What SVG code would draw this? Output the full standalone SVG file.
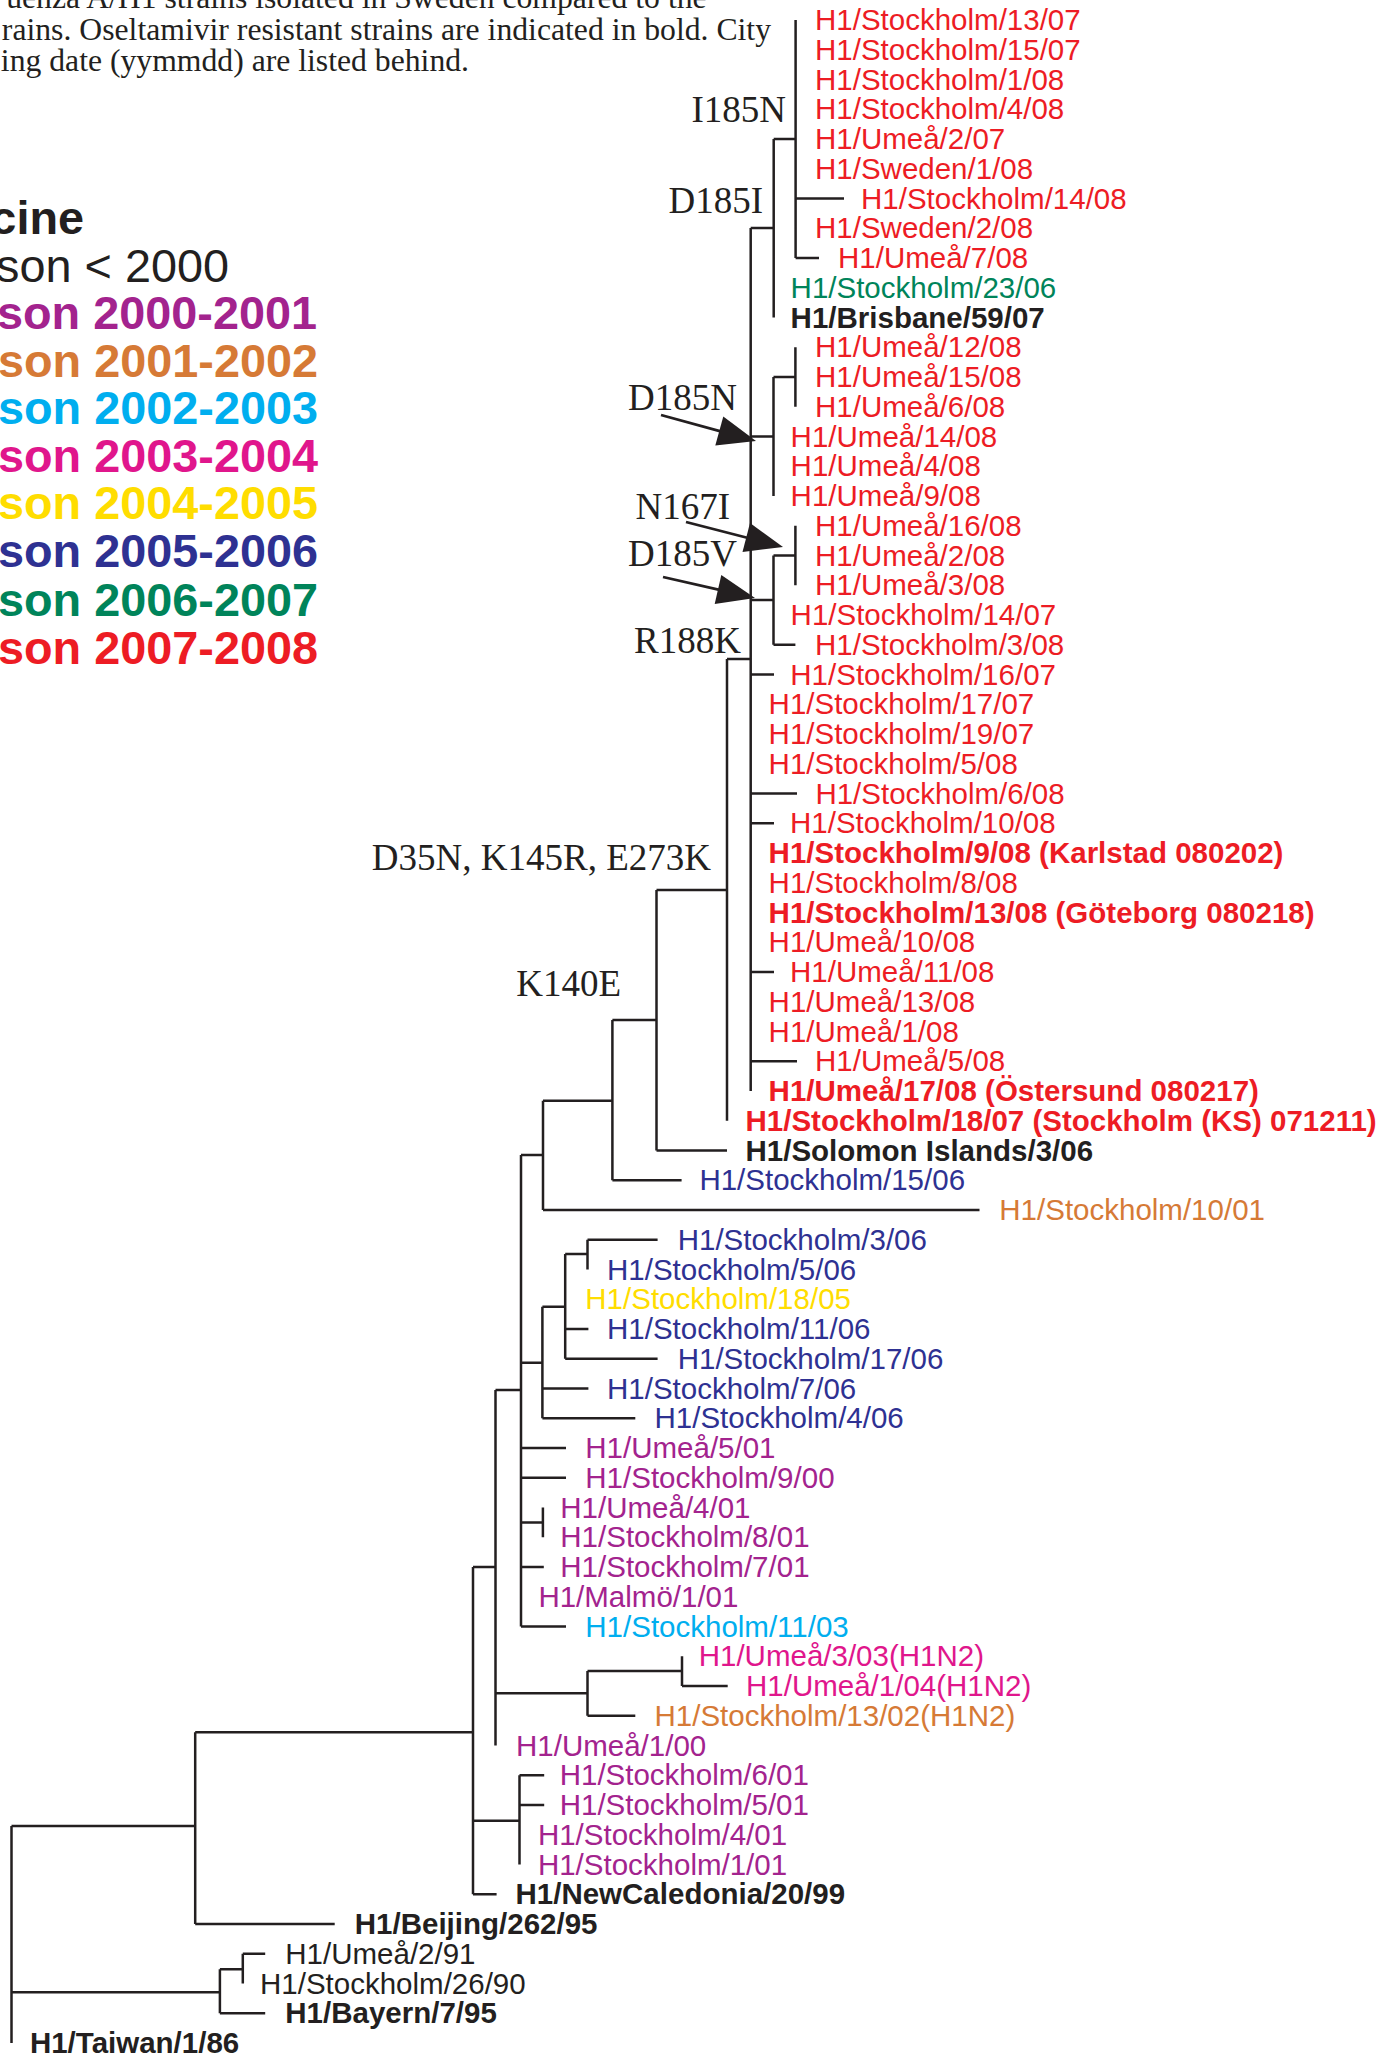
<svg xmlns="http://www.w3.org/2000/svg" width="1384" height="2055" viewBox="0 0 1384 2055">
<style>
.t{font-family:"Liberation Sans",Arial,Helvetica,sans-serif;font-size:29.5px}
.b{font-weight:bold}
.red{fill:#ed1c24}.grn{fill:#00845a}.blk{fill:#231f20}.nav{fill:#2e3192}.org{fill:#d67a36}.yel{fill:#ffdd00}.pur{fill:#a3238e}.cya{fill:#00aeef}.mag{fill:#e0168c}
.m{font-family:"Liberation Serif","Times New Roman",serif;font-size:37px;fill:#231f20;text-anchor:end}
.cap{font-family:"Liberation Serif","Times New Roman",serif;font-size:31.7px;fill:#231f20;text-anchor:end}
.lg{font-family:"Liberation Sans",Arial,sans-serif;font-size:46.8px;font-weight:bold;text-anchor:end}
.br{fill:none;stroke:#231f20;stroke-width:2.5}
.ar{fill:none;stroke:#231f20;stroke-width:2.8}
.ah{fill:#231f20}
</style>
<rect width="1384" height="2055" fill="#ffffff"/>
<g id="caption">
<text class="cap" x="706.6" y="8">uenza A/H1 strains isolated in Sweden compared to the</text>
<text class="cap" x="771" y="40">rains. Oseltamivir resistant strains are indicated in bold. City</text>
<text class="cap" x="469" y="70.7">ing date (yymmdd) are listed behind.</text>
</g>
<g id="legend">
<text class="lg blk" x="84" y="234">cine</text>
<text class="lg blk" x="229" y="281.5" style="font-weight:normal">son &lt; 2000</text>
<text class="lg pur" x="317" y="329">son 2000-2001</text>
<text class="lg org" x="318" y="376.5">son 2001-2002</text>
<text class="lg cya" x="318" y="424">son 2002-2003</text>
<text class="lg mag" x="318" y="471.5">son 2003-2004</text>
<text class="lg yel" x="318" y="519">son 2004-2005</text>
<text class="lg nav" x="318" y="567">son 2005-2006</text>
<text class="lg grn" x="318" y="615.5">son 2006-2007</text>
<text class="lg red" x="318" y="663.5">son 2007-2008</text>
</g>
<g id="connectors">
<path class="br" d="
M795.6,20 V258 M795.6,198.5 H844 M795.6,258 H819
M773.7,139 H795.6 M773.7,139 V317.5 M750.7,228 H773.7
M750.7,228 V1091
M750.7,436.5 H773.5 M773.5,377 V496 M773.5,377 H795.4 M795.4,347.25 V406.75
M750.7,600 H773.5 M773.5,555.5 V644.75 M773.5,555.5 H795.4 M795.4,525.75 V585.25 M773.5,644.75 H795.4
M727,659 H750.7
M750.7,674.5 H774 M750.7,793.5 H797 M750.7,823.25 H774 M750.7,972 H774 M750.7,1061.25 H797
M727,659 V1120.75
M656.5,890 H727 M656.5,890 V1150.5 M656.5,1150.5 H727
M612.4,1020 H656.5 M612.4,1020 V1180.25 M612.4,1180.25 H681.6
M543,1100.7 H612.4 M543,1100.7 V1210 M543,1210 H979.5
M521,1155 H543 M521,1155 V1626.5
M495.5,1390 H521
M521,1362.7 H542.4 M542.4,1306.7 V1418.25 M542.4,1306.7 H565.2 M565.2,1254 V1358.75 M565.2,1254 H587.5 M587.5,1239.75 V1269.5
M587.5,1239.75 H657.6 M565.2,1329 H588.4 M565.2,1358.75 H657.6 M542.4,1388.5 H588.4 M542.4,1418.25 H635.3
M521,1448 H566 M521,1477.75 H566
M521,1522.4 H542.9 M542.9,1507.5 V1537.25
M521,1567 H543.8 M521,1626.5 H566
M495.5,1390 V1745.5
M473,1567 H495.5
M495.5,1693.3 H587.5 M587.5,1671 V1715.75 M587.5,1671 H682 M682,1656.25 V1686 M682,1686 H727.7 M587.5,1715.75 H635.3
M473,1567 V1894.25 M473,1894.25 H496.6
M473,1820.7 H519.5 M519.5,1775.25 V1864.5 M519.5,1775.25 H544.2 M519.5,1805 H544.2
M195.2,1732.3 H473 M195.2,1732.3 V1924 M195.2,1924 H334.7
M11.5,1826 H195.2 M11.5,1826 V2043
M11.5,1992.3 H219.9 M219.9,1969.3 V2013.25 M219.9,1969.3 H242.8 M242.8,1953.75 V1983.5 M242.8,1953.75 H265.2 M219.9,2013.25 H265.2"/>
<g id="arrow-D185N"><path class="ar" d="M661,415 L728,433.4"/><polygon class="ah" points="756,441 723.3,416.5 715.3,445.5"/></g>
<g id="arrow-N167I"><path class="ar" d="M686,522 L752,539"/><polygon class="ah" points="783,547 750,523 742.5,552"/></g>
<g id="arrow-D185V"><path class="ar" d="M663,577 L725,591.2"/><polygon class="ah" points="755,598 721.3,575 714.7,604"/></g>
<g id="mutations">
<text class="m" x="786" y="122">I185N</text>
<text class="m" x="763" y="213.4">D185I</text>
<text class="m" x="737" y="409.8">D185N</text>
<text class="m" x="730" y="519">N167I</text>
<text class="m" x="737" y="566">D185V</text>
<text class="m" x="741" y="652.6">R188K</text>
<text class="m" x="711" y="870">D35N, K145R, E273K</text>
<text class="m" x="621" y="996">K140E</text>
</g>
</g>
<g id="leaves">
<g id="n1"><text class="t red" x="815" y="30">H1/Stockholm/13/07</text></g>
<g id="n2"><text class="t red" x="815" y="59.75">H1/Stockholm/15/07</text></g>
<g id="n3"><text class="t red" x="815" y="89.5">H1/Stockholm/1/08</text></g>
<g id="n4"><text class="t red" x="815" y="119.25">H1/Stockholm/4/08</text></g>
<g id="n5"><text class="t red" x="815" y="149">H1/Umeå/2/07</text></g>
<g id="n6"><text class="t red" x="815" y="178.75">H1/Sweden/1/08</text></g>
<g id="n7"><text class="t red" x="861" y="208.5">H1/Stockholm/14/08</text></g>
<g id="n8"><text class="t red" x="815" y="238.25">H1/Sweden/2/08</text></g>
<g id="n9"><text class="t red" x="838" y="268">H1/Umeå/7/08</text></g>
<g id="n10"><text class="t grn" x="790.6" y="297.75">H1/Stockholm/23/06</text></g>
<g id="n11"><text class="t b blk" x="790.6" y="327.5">H1/Brisbane/59/07</text></g>
<g id="n12"><text class="t red" x="815" y="357.25">H1/Umeå/12/08</text></g>
<g id="n13"><text class="t red" x="815" y="387">H1/Umeå/15/08</text></g>
<g id="n14"><text class="t red" x="815" y="416.75">H1/Umeå/6/08</text></g>
<g id="n15"><text class="t red" x="790.6" y="446.5">H1/Umeå/14/08</text></g>
<g id="n16"><text class="t red" x="790.6" y="476.25">H1/Umeå/4/08</text></g>
<g id="n17"><text class="t red" x="790.6" y="506">H1/Umeå/9/08</text></g>
<g id="n18"><text class="t red" x="815" y="535.75">H1/Umeå/16/08</text></g>
<g id="n19"><text class="t red" x="815" y="565.5">H1/Umeå/2/08</text></g>
<g id="n20"><text class="t red" x="815" y="595.25">H1/Umeå/3/08</text></g>
<g id="n21"><text class="t red" x="790.6" y="625">H1/Stockholm/14/07</text></g>
<g id="n22"><text class="t red" x="815" y="654.75">H1/Stockholm/3/08</text></g>
<g id="n23"><text class="t red" x="790.3" y="684.5">H1/Stockholm/16/07</text></g>
<g id="n24"><text class="t red" x="768.6" y="714.25">H1/Stockholm/17/07</text></g>
<g id="n25"><text class="t red" x="768.6" y="744">H1/Stockholm/19/07</text></g>
<g id="n26"><text class="t red" x="768.6" y="773.75">H1/Stockholm/5/08</text></g>
<g id="n27"><text class="t red" x="815.4" y="803.5">H1/Stockholm/6/08</text></g>
<g id="n28"><text class="t red" x="790" y="833.25">H1/Stockholm/10/08</text></g>
<g id="n29"><text class="t b red" x="768.6" y="863">H1/Stockholm/9/08 (Karlstad 080202)</text></g>
<g id="n30"><text class="t red" x="768.6" y="892.75">H1/Stockholm/8/08</text></g>
<g id="n31"><text class="t b red" x="768.6" y="922.5">H1/Stockholm/13/08 (Göteborg 080218)</text></g>
<g id="n32"><text class="t red" x="768.6" y="952.25">H1/Umeå/10/08</text></g>
<g id="n33"><text class="t red" x="790" y="982">H1/Umeå/11/08</text></g>
<g id="n34"><text class="t red" x="768.6" y="1011.75">H1/Umeå/13/08</text></g>
<g id="n35"><text class="t red" x="768.6" y="1041.5">H1/Umeå/1/08</text></g>
<g id="n36"><text class="t red" x="815" y="1071.25">H1/Umeå/5/08</text></g>
<g id="n37"><text class="t b red" x="768.6" y="1101">H1/Umeå/17/08 (Östersund 080217)</text></g>
<g id="n38"><text class="t b red" x="745.5" y="1130.75">H1/Stockholm/18/07 (Stockholm (KS) 071211)</text></g>
<g id="n39"><text class="t b blk" x="745.5" y="1160.5">H1/Solomon Islands/3/06</text></g>
<g id="n40"><text class="t nav" x="699.4" y="1190.25">H1/Stockholm/15/06</text></g>
<g id="n41"><text class="t org" x="999.3" y="1220">H1/Stockholm/10/01</text></g>
<g id="n42"><text class="t nav" x="677.7" y="1249.75">H1/Stockholm/3/06</text></g>
<g id="n43"><text class="t nav" x="607" y="1279.5">H1/Stockholm/5/06</text></g>
<g id="n44"><text class="t yel" x="585.3" y="1309.25">H1/Stockholm/18/05</text></g>
<g id="n45"><text class="t nav" x="607" y="1339">H1/Stockholm/11/06</text></g>
<g id="n46"><text class="t nav" x="677.7" y="1368.75">H1/Stockholm/17/06</text></g>
<g id="n47"><text class="t nav" x="607" y="1398.5">H1/Stockholm/7/06</text></g>
<g id="n48"><text class="t nav" x="654.5" y="1428.25">H1/Stockholm/4/06</text></g>
<g id="n49"><text class="t pur" x="585.3" y="1458">H1/Umeå/5/01</text></g>
<g id="n50"><text class="t pur" x="585.3" y="1487.75">H1/Stockholm/9/00</text></g>
<g id="n51"><text class="t pur" x="560.3" y="1517.5">H1/Umeå/4/01</text></g>
<g id="n52"><text class="t pur" x="560.3" y="1547.25">H1/Stockholm/8/01</text></g>
<g id="n53"><text class="t pur" x="560.3" y="1577">H1/Stockholm/7/01</text></g>
<g id="n54"><text class="t pur" x="538.4" y="1606.75">H1/Malmö/1/01</text></g>
<g id="n55"><text class="t cya" x="585.3" y="1636.5">H1/Stockholm/11/03</text></g>
<g id="n56"><text class="t mag" x="698.7" y="1666.25">H1/Umeå/3/03(H1N2)</text></g>
<g id="n57"><text class="t mag" x="746" y="1696">H1/Umeå/1/04(H1N2)</text></g>
<g id="n58"><text class="t org" x="654.5" y="1725.75">H1/Stockholm/13/02(H1N2)</text></g>
<g id="n59"><text class="t pur" x="516" y="1755.5">H1/Umeå/1/00</text></g>
<g id="n60"><text class="t pur" x="559.7" y="1785.25">H1/Stockholm/6/01</text></g>
<g id="n61"><text class="t pur" x="559.7" y="1815">H1/Stockholm/5/01</text></g>
<g id="n62"><text class="t pur" x="537.9" y="1844.75">H1/Stockholm/4/01</text></g>
<g id="n63"><text class="t pur" x="537.9" y="1874.5">H1/Stockholm/1/01</text></g>
<g id="n64"><text class="t b blk" x="515.5" y="1904.25">H1/NewCaledonia/20/99</text></g>
<g id="n65"><text class="t b blk" x="354.8" y="1934">H1/Beijing/262/95</text></g>
<g id="n66"><text class="t blk" x="285.3" y="1963.75">H1/Umeå/2/91</text></g>
<g id="n67"><text class="t blk" x="260" y="1993.5">H1/Stockholm/26/90</text></g>
<g id="n68"><text class="t b blk" x="285.3" y="2023.25">H1/Bayern/7/95</text></g>
<g id="n69"><text class="t b blk" x="29.9" y="2053">H1/Taiwan/1/86</text></g>
</g>
</svg>
